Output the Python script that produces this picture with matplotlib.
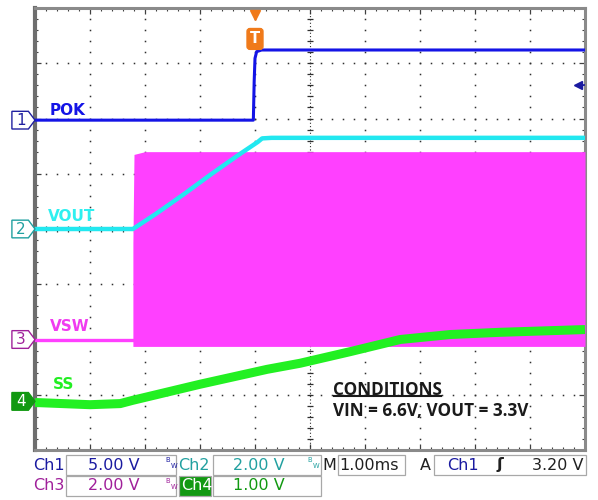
import numpy as np
import matplotlib
matplotlib.use("Agg")
import matplotlib.pyplot as plt
from matplotlib.patches import Polygon, Rectangle
from matplotlib.lines import Line2D
import matplotlib.transforms as mtransforms

W, H = 598, 500

# channel settings (V/div, reference offset in divisions)
ch_scale = [5.0, 2.0, 2.0, 1.0]
ch_offset = [1.97, 0.0, -2.0, -3.12]
trig_level = 3.20  # V on ch1

# traces, time in ms (trigger at 0, 1 ms/div)
t_pok = [-4.0, -0.03, -0.015, 0.0, 0.03, 0.12, 6.0]
v_pok = [0.0, 0.0, 3.5, 5.6, 6.2, 6.35, 6.35]

t_vout = [-4.0, -2.22, -1.8, -1.3, -0.8, -0.3, 0.05, 0.13, 0.3, 6.0]
v_vout = [0.0, 0.0, 0.55, 1.25, 1.98, 2.68, 3.15, 3.28, 3.3, 3.3]

t_vsw_idle = [-4.0, -2.22]
v_vsw_idle = [0.0, 0.0]
t_vsw_sw = [-2.22, -2.2, -2.0, 6.0]
v_vsw_hi = [3.5, 6.7, 6.8, 6.8]
v_vsw_lo = [-0.25, -0.25, -0.25, -0.25]

t_ss = [-4.0, -3.0, -2.45, -2.22, -1.0, 0.22, 0.82, 1.73, 2.64, 3.55, 4.45, 6.0]
v_ss = [-0.02, -0.06, -0.04, 0.02, 0.31, 0.58, 0.69, 0.90, 1.12, 1.21, 1.25, 1.30]

names = ["POK", "VOUT", "VSW", "SS"]
trace_colors = ["#1414e6", "#22e8f0", "#ff40ff", "#22f022"]
label_colors = ["#1414e6", "#2ef0f0", "#f03cf0", "#22ee22"]
marker_colors = ["#2020a0", "#20a0a0", "#a0209a", "#119911"]


def div(ch, v):
    return ch_offset[ch] + np.asarray(v) / ch_scale[ch]


fig = plt.figure(figsize=(W / 100, H / 100), dpi=100)
ax = fig.add_axes([35 / W, 1 - 450 / H, 550 / W, 442 / H])
ax.set_xlim(-4, 6)
ax.set_ylim(-4, 4)

# graticule
minor_x = np.arange(-4, 6.001, 0.2)
minor_y = np.arange(-4, 4.001, 0.2)
for gx in range(-3, 6):
    if gx == 1:
        continue
    ax.plot(np.full_like(minor_y, gx), minor_y, ls="none", marker="s", ms=1.1,
            color="#303030", mew=0)
for gy in range(-3, 4):
    if gy == 0:
        continue
    ax.plot(minor_x, np.full_like(minor_x, gy), ls="none", marker="s", ms=1.1,
            color="#303030", mew=0)
# center cross with ticks
ax.axhline(0, color="#303030", lw=0.8, ls=(0, (1, 2)))
ax.axvline(1, color="#303030", lw=0.8, ls=(0, (1, 2)))
ax.plot(minor_x, np.zeros_like(minor_x), ls="none", marker="|", ms=5, mew=0.9, color="#303030")
ax.plot(np.ones_like(minor_y), minor_y, ls="none", marker="_", ms=5, mew=0.9, color="#303030")

ax.set_xticks(np.arange(-4, 7, 1))
ax.set_yticks(np.arange(-4, 5, 1))
ax.set_xticks(minor_x, minor=True)
ax.set_yticks(minor_y, minor=True)
ax.tick_params(which="both", direction="in", top=True, right=True,
               labelbottom=False, labelleft=False, color="#404040")
ax.tick_params(which="major", length=4, width=0.9)
ax.tick_params(which="minor", length=2.5, width=0.8)
for s in ax.spines.values():
    s.set_color("#8a8a8a")
    s.set_linewidth(2.2)
ax.spines["left"].set_linewidth(3.0)
ax.spines["left"].set_color("#6e6e6e")

# VSW switching envelope
ax.fill_between(t_vsw_sw, div(2, v_vsw_lo), div(2, v_vsw_hi), color=trace_colors[2],
                lw=0, zorder=3)
ax.plot(t_vsw_idle, div(2, v_vsw_idle), color=trace_colors[2], lw=2.4, zorder=3)
# SS
ax.plot(t_ss, div(3, v_ss), color=trace_colors[3], lw=6.5, zorder=4, solid_capstyle="butt")
# VOUT
ax.plot(t_vout, div(1, v_vout), color=trace_colors[1], lw=3.2, zorder=5, solid_capstyle="butt")
# POK
ax.plot(t_pok, div(0, v_pok), color=trace_colors[0], lw=2.2, zorder=6, solid_capstyle="butt")

# trace labels
label_dx = [-3.73, -3.77, -3.73, -3.67]
label_dy = [0.17, 0.22, 0.23, 0.3]
for i, n in enumerate(names):
    ax.text(label_dx[i], ch_offset[i] + label_dy[i], n, color=label_colors[i],
            fontsize=11, fontweight="bold", family="DejaVu Sans", va="center", zorder=7)

# channel markers on the left edge
trans = mtransforms.blended_transform_factory(ax.transAxes, ax.transData)
for i in range(4):
    y = ch_offset[i]
    h = 0.16
    pts = [(-0.042, y - h), (-0.012, y - h), (0.0, y), (-0.012, y + h), (-0.042, y + h)]
    filled = i == 3
    poly = Polygon(pts, closed=True, transform=trans, clip_on=False,
                   facecolor=marker_colors[i] if filled else "white",
                   edgecolor=marker_colors[i], lw=1.0, zorder=8)
    ax.add_patch(poly)
    ax.text(-0.026, y, str(i + 1), transform=trans, ha="center", va="center",
            fontsize=11, color="white" if filled else marker_colors[i],
            family="DejaVu Sans", clip_on=False, zorder=9)

# trigger position marker
tt = mtransforms.blended_transform_factory(ax.transData, ax.transAxes)
ax.plot([0], [0.985], marker="v", ms=7, color="#f07a1a", transform=tt, clip_on=False, zorder=9)
ax.text(0, 0.93, "T", transform=tt, ha="center", va="center", color="white",
        fontsize=10.5, fontweight="bold", family="DejaVu Sans", zorder=9,
        bbox=dict(boxstyle="round,pad=0.2", fc="#f07a1a", ec="#f07a1a"))

# trigger level marker
ty = ch_offset[0] + trig_level / ch_scale[0]
tr = mtransforms.blended_transform_factory(ax.transAxes, ax.transData)
ax.plot([0.988], [ty], marker="<", ms=6, color="#1a1aa0", transform=tr, zorder=9)
ax.plot([0.988, 1.0], [ty, ty], color="#1a1aa0", lw=1.2, transform=tr, zorder=9)

# conditions note
c1 = ax.text(1.42, -2.92, "CONDITIONS", fontsize=12.3, fontweight="bold",
             family="Open Sans", color="#1a1a1a", va="center", zorder=9)
ax.text(1.42, -3.29, "VIN = 6.6V, VOUT = 3.3V", fontsize=12.3, fontweight="bold",
        family="Open Sans", color="#1a1a1a", va="center", zorder=9)
fig.canvas.draw()
bb = c1.get_window_extent()
fig.add_artist(Line2D([bb.x0 + 1, bb.x1 - 1], [bb.y0 + 3, bb.y0 + 3], color="#1a1a1a", lw=1.5,
                      transform=None))


# status bar
def fx(x):
    return x / W


def fy(y):
    return 1 - y / H


def box(x0, x1, y0, y1, fc="white"):
    fig.add_artist(Rectangle((fx(x0), fy(y1)), fx(x1) - fx(x0), fy(y0) - fy(y1),
                             transform=fig.transFigure, fc=fc, ec="#a8a8a8", lw=0.9))


def txt(x, y, s, color, ha="left", size=11.5, **kw):
    fig.text(fx(x), fy(y), s, color=color, ha=ha, va="center", fontsize=size,
             family="DejaVu Sans", **kw)


box(66, 176, 455, 475)
box(213, 321, 455, 475)
box(338, 405, 455, 475)
box(434, 586, 455, 475)
box(66, 176, 476, 496)
box(179, 211, 476, 496, fc="#119911")
box(213, 321, 476, 496)

txt(33, 465, "Ch1", "#1a1aa0")
txt(140, 465, "5.00 V", "#1a1aa0", ha="right")
txt(178, 465, "Ch2", "#22a0a0")
txt(285, 465, "2.00 V", "#22a0a0", ha="right")
txt(322, 465, "M", "#202020")
txt(399, 465, "1.00ms", "#202020", ha="right")
txt(420, 465, "A", "#202020")
txt(447, 465, "Ch1", "#1a1aa0")
txt(500, 465, "\u0283", "#202020", ha="center", fontweight="bold")
txt(584, 465, "3.20 V", "#202020", ha="right")
txt(33, 486, "Ch3", "#a0209a")
txt(140, 486, "2.00 V", "#a0209a", ha="right")
txt(181, 486, "Ch4", "white")
txt(285, 486, "1.00 V", "#119911", ha="right")
bw = r"${}^{\mathrm{B}}{}_{\mathrm{W}}$"
for bx, by, c in [(165, 463, "#1a1aa0"), (307, 463, "#22a0a0"), (165, 484, "#a0209a")]:
    txt(bx, by, bw, c, size=7)

fig.savefig("out.png", dpi=100)
